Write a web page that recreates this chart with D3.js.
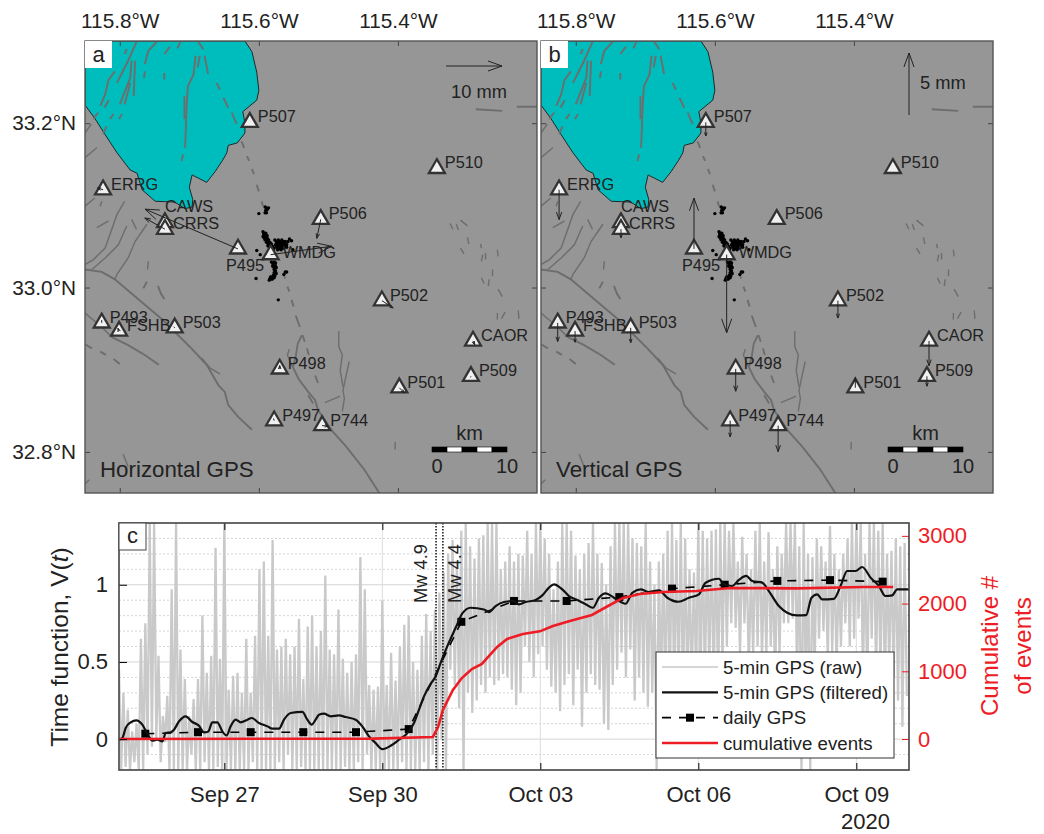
<!DOCTYPE html>
<html>
<head>
<meta charset="utf-8">
<script src="https://cdn.jsdelivr.net/npm/d3@7"></script>
<style>
  html, body { margin: 0; padding: 0; background: #fff; }
  svg text { font-family: "Liberation Sans", Arial, sans-serif; fill: #222; }
</style>
</head>
<body>
<div id="chart"></div>
<script>
// Stations, drawn in this order (CRRS sits on top of CAWS)
const stationNames = ['P507','P510','ERRG','CAWS','CRRS','P506','P495','WMDG','P502','P493','FSHB','P503','CAOR','P509','P501','P498','P497','P744']
const stationLon = [-115.613,-115.344,-115.824,-115.735,-115.735,-115.511,-115.630,-115.583,-115.423,-115.826,-115.801,-115.721,-115.292,-115.295,-115.398,-115.570,-115.578,-115.509]
const stationLat = [33.201,33.145,33.119,33.079,33.071,33.083,33.047,33.040,32.984,32.957,32.947,32.951,32.935,32.892,32.878,32.901,32.838,32.832]
// displacement in mm
const eastMm = [.1,0,-1.0,0,-3.6,-.7,-16.6,10.9,2.0,0,-.2,-.2,.3,-.1,.9,0,-.1,1.1]
const northMm = [-.1,-.1,.3,0,2.0,-3.4,7.1,1.5,-1.3,.5,.5,.2,-.7,-.2,-.9,.6,.4,-.1]
const upMm = [-1.1,0,-2.4,0,-.7,0,4.1,-6.3,-1.4,-1.5,-.9,-1.2,-2.0,-.8,.8,-1.8,-1.3,-2.1]

const lonTicks = [-115.8,-115.6,-115.4]
const latTicks = [33.2,33.0,32.8]

const lakeShore = [[-115.620,33.300],[-115.610,33.287],[-115.603,33.262],[-115.600,33.240],[-115.603,33.228],[-115.623,33.214],[-115.620,33.200],[-115.620,33.188],[-115.631,33.176],[-115.644,33.173],[-115.646,33.164],[-115.652,33.155],[-115.663,33.141],[-115.675,33.128],[-115.696,33.137],[-115.700,33.122],[-115.695,33.107],[-115.696,33.098],[-115.706,33.096],[-115.721,33.104],[-115.749,33.105],[-115.768,33.119],[-115.775,33.139],[-115.785,33.143],[-115.804,33.164],[-115.821,33.186],[-115.836,33.206],[-115.850,33.222],[-115.850,33.300]]

const lakeFaults = [
  [[-115.776,33.299],[-115.788,33.276],[-115.804,33.249]],
  [[-115.807,33.263],[-115.816,33.253],[-115.821,33.235],[-115.828,33.221]],
  [[-115.783,33.276],[-115.785,33.255],[-115.800,33.223]],
  [[-115.778,33.276],[-115.780,33.233]],
  [[-115.785,33.249],[-115.793,33.223]],
  [[-115.790,33.290],[-115.793,33.284]],
  [[-115.747,33.299],[-115.759,33.288],[-115.764,33.272]],
  [[-115.764,33.263],[-115.765,33.255]],
  [[-115.728,33.293],[-115.736,33.284]],
  [[-115.713,33.299],[-115.717,33.291]],
  [[-115.736,33.261],[-115.736,33.253]],
  [[-115.691,33.282],[-115.694,33.259],[-115.702,33.245],[-115.704,33.219],[-115.706,33.170]],
  [[-115.707,33.233],[-115.707,33.205]],
  [[-115.709,33.162],[-115.711,33.154]],
  [[-115.685,33.282],[-115.688,33.268]],
  [[-115.831,33.213],[-115.838,33.205]],
  [[-115.809,33.211],[-115.814,33.205]],
  [[-115.797,33.211],[-115.801,33.205]],
  [[-115.819,33.196],[-115.824,33.187]],
  [[-115.816,33.228],[-115.822,33.219]],
  // Brawley dashes
  [[-115.687,33.299],[-115.680,33.290]],
  [[-115.678,33.282],[-115.673,33.260]],
  [[-115.661,33.249],[-115.656,33.241]],
  [[-115.651,33.231],[-115.644,33.219]],
  [[-115.639,33.213],[-115.632,33.199]],
  [[-115.625,33.178],[-115.621,33.170]],
  [[-115.617,33.160],[-115.614,33.154]],
  [[-115.610,33.144],[-115.607,33.138]],
  [[-115.603,33.125],[-115.600,33.117]],
  [[-115.596,33.105],[-115.594,33.099]],
  [[-115.565,33.017],[-115.562,33.011]],
  [[-115.559,33.001],[-115.556,32.995]],
  [[-115.553,32.985],[-115.550,32.977]],
  [[-115.547,32.966],[-115.541,32.952]],
  [[-115.537,32.942],[-115.534,32.934]],
  [[-115.531,32.926],[-115.528,32.918]],
  [[-115.519,32.893],[-115.515,32.884]],
  // Superstition Hills and Superstition Mountain
  [[-115.850,33.022],[-115.826,33.019],[-115.807,33.010],[-115.778,32.989],[-115.740,32.962],[-115.716,32.942],[-115.697,32.926],[-115.675,32.906],[-115.658,32.881],[-115.649,32.873],[-115.644,32.857],[-115.630,32.843],[-115.610,32.827]],
  [[-115.812,32.940],[-115.788,32.930],[-115.764,32.918],[-115.744,32.906]],
  [[-115.850,32.931],[-115.840,32.926]],
  [[-115.828,32.922],[-115.820,32.918]],
  [[-115.809,32.913],[-115.800,32.907]],
  [[-115.761,33.007],[-115.766,32.999]],
  [[-115.745,33.002],[-115.741,32.993],[-115.736,32.986]],
  // Imperial
  [[-115.538,32.942],[-115.544,32.932],[-115.547,32.916],[-115.551,32.903],[-115.543,32.889],[-115.529,32.873],[-115.519,32.863],[-115.515,32.851],[-115.493,32.824],[-115.474,32.806],[-115.448,32.778],[-115.426,32.749]],
  [[-115.529,32.869],[-115.522,32.859]],
  [[-115.288,33.217],[-115.250,33.215]],
  [[-115.229,33.220],[-115.200,33.220]]
]
const thinFaults = [
  [[-115.850,32.969],[-115.826,32.952],[-115.812,32.940]],
  [[-115.682,32.914],[-115.670,32.902],[-115.656,32.895]],
  [[-115.795,32.797],[-115.788,32.782]],
  [[-115.850,32.761],[-115.844,32.766]],
  [[-115.759,33.032],[-115.760,33.022]],
  [[-115.793,33.105],[-115.804,33.089],[-115.821,33.048],[-115.838,33.034],[-115.850,33.028]],
  [[-115.790,33.075],[-115.802,33.052],[-115.821,33.036],[-115.840,33.022]],
  [[-115.761,33.077],[-115.778,33.056],[-115.788,33.036],[-115.804,33.016],[-115.807,33.010]],
  [[-115.783,33.083],[-115.776,33.071]],
  [[-115.816,33.081],[-115.833,33.073]],
  [[-115.826,33.105],[-115.828,33.099]],
  [[-115.836,33.109],[-115.850,33.099]],
  [[-115.833,33.170],[-115.850,33.158]],
  [[-115.841,33.199],[-115.850,33.188]],
  [[-115.556,32.925],[-115.559,32.918],[-115.552,32.904]],
  [[-115.485,32.947],[-115.485,32.928],[-115.480,32.918],[-115.483,32.899],[-115.479,32.879]],
  [[-115.470,32.910],[-115.476,32.887],[-115.479,32.875],[-115.477,32.865],[-115.480,32.849]],
  [[-115.505,32.860],[-115.483,32.868]],
  [[-115.404,32.812],[-115.404,32.803]],
  [[-115.325,33.078],[-115.321,33.071]],
  [[-115.316,33.077],[-115.313,33.070]],
  [[-115.310,33.082],[-115.300,33.075]],
  [[-115.300,33.061],[-115.298,33.053]],
  [[-115.310,33.048],[-115.305,33.041]],
  [[-115.281,33.053],[-115.280,33.048]],
  [[-115.274,33.042],[-115.274,33.034]],
  [[-115.278,33.040],[-115.280,33.032]],
  [[-115.257,33.046],[-115.256,33.038]],
  [[-115.264,33.022],[-115.264,33.014]],
  [[-115.280,33.012],[-115.276,33.005]],
  [[-115.269,33.010],[-115.270,33.002]],
  [[-115.256,32.998],[-115.250,32.989]],
  [[-115.257,32.969],[-115.257,32.961]],
  [[-115.246,32.970],[-115.251,32.962]],
  [[-115.227,32.972],[-115.226,32.962]]
]

// Relocated swarm events
const swarmEvents = [[-115.591,33.098],[-115.589,33.097],[-115.590,33.094],[-115.588,33.095],[-115.589,33.091],[-115.591,33.091],[-115.586,33.097],[-115.600,33.090],
  [-115.594,33.068],[-115.592,33.066],[-115.591,33.064],[-115.594,33.062],[-115.592,33.060],[-115.590,33.062],[-115.589,33.060],[-115.591,33.058],[-115.589,33.058],[-115.587,33.056],[-115.589,33.055],[-115.587,33.054],[-115.585,33.052],[-115.587,33.051],[-115.585,33.049],[-115.583,33.050],[-115.582,33.048],[-115.584,33.047],[-115.581,33.046],[-115.583,33.045],[-115.579,33.046],[-115.592,33.063],[-115.588,33.063],[-115.586,33.058],[-115.584,33.055],
  [-115.593,33.065],[-115.590,33.066],[-115.588,33.060],[-115.586,33.054],[-115.584,33.052],[-115.582,33.053],[-115.580,33.050],[-115.578,33.048],[-115.581,33.043],[-115.579,33.043],[-115.585,33.045],
  [-115.577,33.058],[-115.575,33.056],[-115.572,33.058],[-115.570,33.056],[-115.574,33.054],[-115.572,33.054],[-115.570,33.053],[-115.568,33.055],[-115.567,33.058],[-115.565,33.056],[-115.563,33.054],[-115.565,33.052],[-115.567,33.051],[-115.570,33.050],[-115.572,33.050],[-115.569,33.048],[-115.566,33.048],[-115.563,33.050],[-115.561,33.053],[-115.558,33.056],[-115.556,33.059],[-115.553,33.057],[-115.560,33.049],[-115.574,33.049],
  [-115.576,33.052],[-115.574,33.051],[-115.571,33.052],[-115.568,33.052],[-115.566,33.054],[-115.564,33.048],[-115.568,33.046],[-115.571,33.047],[-115.573,33.046],[-115.562,33.056],[-115.560,33.052],
  [-115.582,33.031],[-115.578,33.031],[-115.580,33.029],[-115.577,33.028],[-115.580,33.026],[-115.578,33.024],[-115.576,33.026],[-115.578,33.022],[-115.576,33.020],[-115.578,33.018],[-115.575,33.017],[-115.579,33.015],[-115.577,33.014],[-115.582,33.013],[-115.584,33.011],[-115.581,33.010],[-115.578,33.012],[-115.585,33.009],
  [-115.576,33.030],[-115.579,33.027],[-115.575,33.024],[-115.577,33.021],[-115.580,33.012],[-115.583,33.013],
  [-115.564,33.016],[-115.562,33.019],[-115.604,33.011],[-115.598,33.040],[-115.593,33.035],[-115.603,33.045],[-115.551,33.046],[-115.572,32.985],[-115.560,33.019]
]

// Time series, day counted from Sep 25 2020 00:00 UTC. Raw 5-min GPS read as
// high and low per 2 hour bin
const rawHigh = [.45,.30,.19,.05,.10,.65,.75,1.40,1.40,.54,.15,.28,.97,1.40,.58,.39,.15,.26,.39,.80,.43,.54,1.24,.52,1.40,.32,.41,.43,.30,.65,.30,.67,1.10,1.15,.67,1.29,.58,.60,.65,.55,.60,.78,.39,.73,.80,.60,
  .70,1.06,.58,.55,.84,.52,.43,.50,.55,1.18,.97,.35,.32,.34,.90,.35,.56,.38,.60,.74,.80,.50,.45,.67,.81,.70,.84,.95,1.08,1.20,1.29,1.15,1.35,1.40,1.25,1.17,1.30,1.32,1.40,1.40,1.40,1.10,1.15,1.25,1.15,1.20,
  1.19,1.35,1.20,1.40,1.40,1.30,1.20,.97,1.15,1.40,1.40,1.35,1.19,1.10,1.20,1.27,1.40,1.20,1.14,1.00,1.25,1.40,1.40,1.40,1.40,1.30,1.27,1.25,1.40,1.15,1.00,1.15,1.20,1.35,1.40,1.29,1.40,1.30,1.10,1.08,1.40,1.35,1.30,1.35,1.36,
  1.40,1.40,1.35,1.40,1.15,1.31,1.20,1.10,1.35,1.40,1.15,1.34,1.10,1.25,1.20,1.40,1.40,1.40,1.25,1.40,1.20,1.18,1.30,1.25,1.15,1.38,1.20,1.10,1.20,1.30,1.40,1.40,1.40,1.20,1.40,1.40,1.35,1.40,1.20,1.22,1.30,1.25,1.27]
const rawLow = [-.20,-.18,-.20,-.15,-.20,-.20,-.10,-.05,.00,-.15,-.02,-.20,-.20,-.20,-.20,-.20,-.10,-.20,-.20,-.15,-.20,-.20,-.18,-.20,-.20,-.20,-.20,-.20,-.20,-.20,-.15,-.20,-.20,-.20,-.20,-.20,-.15,-.20,-.10,-.20,-.20,-.18,-.20,-.20,-.20,-.20,
  -.20,-.20,-.20,-.20,-.20,-.18,-.20,-.20,-.15,-.20,-.10,-.20,-.20,-.20,-.20,-.20,-.20,-.20,-.15,-.20,-.20,-.20,-.20,-.15,-.20,-.10,-.20,.00,-.20,.45,.35,.20,-.20,.30,.17,.25,.35,.30,.40,.35,.38,.42,.40,.32,.22,.30,
  .60,.50,.40,.55,.60,.45,.34,.30,.18,.35,.42,.22,.45,.08,.30,.42,.35,.32,.10,.06,.35,.45,.56,.40,.58,.25,.40,.30,.21,.30,-.20,.30,.20,.30,.30,.30,.25,.30,.35,.40,.30,.35,.40,.30,.30,
  .50,.60,.75,.72,.55,.75,.45,.55,.60,.50,.55,.60,.35,.55,.75,.75,.78,.40,-.20,.30,-.20,.45,.65,.70,.50,.55,.45,.60,.75,.60,.65,.78,.40,.30,.65,.40,.40,.30,.45,.40,.25,.08,.28]

const filteredDay = [0,.063,.127,.222,.329,.443,.538,.633,.728,.823,.886,.981,1.044,1.139,1.266,1.392,1.519,1.614,1.696,1.772,1.867,1.962,2.044,2.120,2.215,2.310,2.437,2.519,2.658,2.816,2.911,3.038,3.133,3.259,3.481,3.576,3.658,3.734,3.797,3.892,4.019,4.177,4.303,4.494,4.620,4.746,4.873,5.000,5.158,5.316,5.475,5.601,5.696,5.791,5.917,6.013,6.107,6.234,6.392,6.519,6.677,6.930,7.025,7.151,7.310,7.500,7.594,7.721,7.910,8.037,8.164,8.259,8.417,8.543,8.702,8.860,8.999,9.113,9.240,9.398,9.619,9.746,9.904,10.062,10.252,10.410,10.619,10.822,11.012,11.138,11.391,11.485,11.643,11.770,11.909,12.023,12.213,12.339,12.529,12.687,12.877,13.048,13.149,13.257,13.352,13.574,13.700,13.827,13.985,14.112,14.270,14.428,14.554,14.681,14.776,15.0]
const filteredV = [-.004,.007,.072,.109,.122,.094,.035,-.010,-.004,-.015,.039,.044,.061,.115,.148,.111,.087,.044,.050,.109,.109,.050,.024,.083,.126,.109,.126,.137,.104,.083,.068,.068,.126,.169,.176,.126,.094,.126,.158,.165,.148,.154,.143,.126,.083,.018,-.026,-.065,-.043,-.004,.039,.104,.191,.277,.358,.407,.494,.602,.721,.814,.851,.840,.823,.862,.888,.894,.873,.888,.901,.931,.981,1.003,.970,.927,.901,.873,.851,.916,.944,.916,.877,.948,.970,.953,.964,.916,.890,.916,.938,1.013,1.039,1.003,.992,1.031,1.057,1.024,1.013,.959,.862,.819,.801,.803,.916,.938,.905,.909,.992,1.089,1.089,1.115,1.046,.992,.927,.931,.970,.970]

const dailyDay = [.5,1.5,2.5,3.5,4.5,5.5,6.5,7.5,8.5,9.5,10.5,11.5,12.5,13.5,14.5]
const dailyV = [.035,.045,.045,.045,.045,.065,.76,.895,.895,.92,.975,1.0,1.025,1.03,1.02]

const eventDay = [0,4.82,5.96,6.06,6.15,6.34,6.51,6.70,6.89,7.01,7.18,7.37,7.67,7.99,8.24,8.56,8.98,9.32,9.57,9.89,10.33,10.97,11.60,12.87,14.13,14.70]
const eventCount = [0,5,30,180,428,724,900,1034,1108,1211,1359,1477,1551,1590,1669,1743,1832,1979,2083,2142,2171,2185,2230,2225,2245,2245]

const quakeDay = [6.02,6.15]
const quakeNames = ['Mw 4.9','Mw 4.4']
const dateTicks = ['2020-09-27','2020-09-30','2020-10-03','2020-10-06','2020-10-09']
const vTicks = [0,.5,1]
const vGrid = d3.range(-2,14).map(d => d / 10)
const countTicks = [0,1000,2000,3000]
const legendNames = ['5-min GPS (raw)','5-min GPS (filtered)','daily GPS','cumulative events']

const faultColour = '#6d6d6d'
const red = '#ee1c25'
const fontMap = 16.3

// label offsets from the station, most sit to the right
const labelShift = { CAWS: [0,-11], P495: [-12,22], WMDG: [12,3] }

const svg = d3.select('#chart').append('svg')
  .attr('width', 1044)
  .attr('height', 834)

const mapWidth = 452
const mapHeight = 452
const lon = d3.scaleLinear().domain([-115.85,-115.2]).range([0,mapWidth])
const lat = d3.scaleLinear().domain([33.3,32.75]).range([0,mapHeight])
const pathGeo = d3.line().x(d => lon(d[0])).y(d => lat(d[1]))
const kmScale = d3.scaleLinear().domain([0,10]).range([347,422])

function drawArrow(g, x0, y0, x1, y1) {
  const len = Math.hypot(x1 - x0, y1 - y0)
  if (len < 1) return
  let d = `M${x0},${y0}L${x1},${y1}`
  if (len > 3) {
    const head = Math.max(3.5, Math.min(14, len * 0.25))
    const ux = (x1 - x0) / len, uy = (y1 - y0) / len
    const w = head * 0.36
    d += `M${x1 - ux * head - uy * w},${y1 - uy * head + ux * w}L${x1},${y1}L${x1 - ux * head + uy * w},${y1 - uy * head - ux * w}`
  }
  g.append('path').attr('d', d).attr('fill', 'none').attr('stroke', '#222').attr('stroke-width', 1)
}

function drawMap(id, left, letter, title, vector, showLat) {
  const g = svg.append('g').attr('id', id).attr('transform', `translate(${left},41)`)
  const clipId = id + '-clip'
  g.append('clipPath').attr('id', clipId).append('rect').attr('width', mapWidth).attr('height', mapHeight)
  g.append('rect').attr('width', mapWidth).attr('height', mapHeight).attr('fill', '#969696')

  const body = g.append('g').attr('clip-path', `url(#${clipId})`)
  body.append('path').attr('d', pathGeo(lakeShore) + 'Z')
    .attr('fill', '#00bdbd').attr('stroke', '#1c2a2a').attr('stroke-width', 1)
  body.append('g').selectAll('path').data(lakeFaults).enter().append('path')
    .attr('d', pathGeo).attr('fill', 'none').attr('stroke', faultColour).attr('stroke-width', 1.9)
  body.append('g').selectAll('path').data(thinFaults).enter().append('path')
    .attr('d', pathGeo).attr('fill', 'none').attr('stroke', faultColour).attr('stroke-width', 1.4)

  body.append('g').selectAll('circle').data(swarmEvents).enter().append('circle')
    .attr('cx', d => lon(d[0])).attr('cy', d => lat(d[1])).attr('r', 1.7).attr('fill', '#000')

  // Stations
  const triangle = d3.symbol().type(d3.symbolTriangle).size(110)
  body.append('g').selectAll('path').data(stationNames).enter().append('path')
    .attr('d', triangle)
    .attr('transform', (d, i) => `translate(${lon(stationLon[i])},${lat(stationLat[i])})`)
    .attr('fill', '#f0f0f0').attr('stroke', '#333').attr('stroke-width', 2.3)

  const arrows = body.append('g')
  stationNames.forEach((name, i) => {
    const x = lon(stationLon[i]), y = lat(stationLat[i])
    const [dx, dy] = vector(i)
    drawArrow(arrows, x, y, x + dx, y - dy)
  })

  body.append('g').selectAll('text').data(stationNames).enter().append('text')
    .attr('x', (d, i) => lon(stationLon[i]) + (labelShift[d] ? labelShift[d][0] : 8))
    .attr('y', (d, i) => lat(stationLat[i]) + (labelShift[d] ? labelShift[d][1] : 0))
    .attr('font-size', fontMap)
    .text(d => d)

  // Scale bar
  const bar = g.append('g')
  const barEdges = [0,2,4,6,8]
  bar.selectAll('rect').data(barEdges).enter().append('rect')
    .attr('x', d => kmScale(d)).attr('y', 406)
    .attr('width', kmScale(2) - kmScale(0)).attr('height', 5)
    .attr('fill', (d, i) => i % 2 ? '#fff' : '#000').attr('stroke', '#000').attr('stroke-width', .6)
  bar.append('text').attr('x', (kmScale(0) + kmScale(10)) / 2).attr('y', 399).attr('text-anchor', 'middle').attr('font-size', 20).text('km')
  bar.append('text').attr('x', kmScale(0) + 5).attr('y', 432).attr('text-anchor', 'middle').attr('font-size', 20).text('0')
  bar.append('text').attr('x', kmScale(10)).attr('y', 432).attr('text-anchor', 'middle').attr('font-size', 20).text('10')

  g.append('text').attr('x', 15).attr('y', 436).attr('font-size', 22.3).text(title)

  // Frame and ticks
  const styleAxis = sel => {
    sel.select('.domain').remove()
    sel.selectAll('line').attr('stroke', '#444')
    sel.selectAll('text').attr('font-size', 20.8).style('font-family', '"Liberation Sans", Arial, sans-serif')
  }
  g.append('g').call(d3.axisTop(lon).tickValues(lonTicks).tickSize(-5).tickPadding(13)
    .tickFormat(d => `${Math.abs(d).toFixed(1)}°W`)).call(styleAxis)
  g.append('g').attr('transform', `translate(0,${mapHeight})`)
    .call(d3.axisBottom(lon).tickValues(lonTicks).tickSize(-5).tickFormat('')).call(styleAxis)
  g.append('g').call(d3.axisLeft(lat).tickValues(latTicks).tickSize(-5).tickPadding(9)
    .tickFormat(d => showLat ? `${d.toFixed(1)}°N` : '')).call(styleAxis)
  g.append('g').attr('transform', `translate(${mapWidth},0)`)
    .call(d3.axisRight(lat).tickValues(latTicks).tickSize(-5).tickFormat('')).call(styleAxis)
  g.append('rect').attr('width', mapWidth).attr('height', mapHeight)
    .attr('fill', 'none').attr('stroke', '#555').attr('stroke-width', 1.4)

  g.append('rect').attr('width', 27).attr('height', 27).attr('fill', '#fff')
  g.append('text').attr('x', 13.5).attr('y', 21).attr('text-anchor', 'middle').attr('font-size', 22).text(letter)
  return g
}

const eastScale = d3.scaleLinear().domain([0,10]).range([0,56])
const upScale = d3.scaleLinear().domain([0,5]).range([0,62])

const mapA = drawMap('map-a', 85, 'a', 'Horizontal GPS', i => [eastScale(eastMm[i]), eastScale(northMm[i])], true)
const mapB = drawMap('map-b', 541, 'b', 'Vertical GPS', i => [0, upScale(upMm[i])], false)

// Reference arrows
drawArrow(mapA, 361, 25, 361 + eastScale(10), 25)
mapA.append('text').attr('x', 366).attr('y', 57).attr('font-size', 18.3).text('10 mm')
drawArrow(mapB, 368, 74, 368, 74 - upScale(5))
mapB.append('text').attr('x', 379).attr('y', 48).attr('font-size', 18.3).text('5 mm')

// Panel c
const cLeft = 119, cRight = 909, cTop = 523, cBottom = 770
const startMs = Date.UTC(2020, 8, 25)
const dayToDate = d => new Date(startMs + d * 864e5)
const xTime = d3.scaleUtc().domain([dayToDate(0), dayToDate(15)]).range([0, cRight - cLeft])
const yV = d3.scaleLinear().domain([-0.2,1.4]).range([cBottom - cTop, 0])
const yCount = d3.scaleLinear().domain([-458,3190]).range([cBottom - cTop, 0])
const plotW = cRight - cLeft, plotH = cBottom - cTop

const c = svg.append('g').attr('id', 'panel-c').attr('transform', `translate(${cLeft},${cTop})`)
c.append('clipPath').attr('id', 'c-clip').append('rect').attr('width', plotW).attr('height', plotH)
c.append('rect').attr('width', plotW).attr('height', plotH).attr('fill', '#fff')

const dates = dateTicks.map(d => new Date(d + 'T00:00:00Z'))
c.append('g').selectAll('line').data(vGrid).enter().append('line')
  .attr('x1', 0).attr('x2', plotW).attr('y1', d => yV(d)).attr('y2', d => yV(d))
  .attr('stroke', '#d4d4d4').attr('stroke-dasharray', d => Math.round(d * 10) % 5 === 0 ? null : '2,2')
c.append('g').selectAll('line').data(dates).enter().append('line')
  .attr('x1', d => xTime(d)).attr('x2', d => xTime(d)).attr('y1', 0).attr('y2', plotH)
  .attr('stroke', '#dcdcdc')

const series = c.append('g').attr('clip-path', 'url(#c-clip)')

// alternate high and low per bin, one hour apart
const rawPoints = rawHigh.flatMap((h, i) => [[i * 2 / 24, h], [(i * 2 + 1) / 24, rawLow[i]]])
const lineDayV = d3.line().x(d => xTime(dayToDate(d[0]))).y(d => yV(d[1]))
series.append('path').attr('d', lineDayV(rawPoints))
  .attr('fill', 'none').attr('stroke', '#c9c9c9').attr('stroke-width', 2.3)

series.append('g').selectAll('line').data(quakeDay).enter().append('line')
  .attr('x1', d => xTime(dayToDate(d))).attr('x2', d => xTime(dayToDate(d)))
  .attr('y1', 0).attr('y2', plotH)
  .attr('stroke', '#000').attr('stroke-width', 1.4).attr('stroke-dasharray', '1.5,1.5')

series.append('path').attr('d', lineDayV(d3.zip(dailyDay, dailyV)))
  .attr('fill', 'none').attr('stroke', '#000').attr('stroke-width', 1.6).attr('stroke-dasharray', '9,8')
series.append('g').selectAll('rect').data(d3.zip(dailyDay, dailyV)).enter().append('rect')
  .attr('x', d => xTime(dayToDate(d[0])) - 4).attr('y', d => yV(d[1]) - 4)
  .attr('width', 8).attr('height', 8).attr('fill', '#000')

series.append('path')
  .attr('d', d3.line().curve(d3.curveMonotoneX).x(d => xTime(dayToDate(d[0]))).y(d => yV(d[1]))(d3.zip(filteredDay, filteredV)))
  .attr('fill', 'none').attr('stroke', '#111').attr('stroke-width', 2.2)

series.append('path')
  .attr('d', d3.line().x(d => xTime(dayToDate(d[0]))).y(d => yCount(d[1]))(d3.zip(eventDay, eventCount)))
  .attr('fill', 'none').attr('stroke', red).attr('stroke-width', 2.6)

// Axes
const fontFix = (sel, size) => {
  sel.select('.domain').remove()
  sel.selectAll('text').attr('font-size', size).style('font-family', '"Liberation Sans", Arial, sans-serif')
}
c.append('g').attr('transform', `translate(0,${plotH})`)
  .call(d3.axisBottom(xTime).tickValues(dates).tickSize(-7).tickPadding(16).tickFormat(d3.utcFormat('%b %d')))
  .call(fontFix, 22)
c.append('g')
  .call(d3.axisTop(xTime).tickValues(dates).tickSize(-7).tickFormat(''))
  .call(fontFix, 22)
c.append('g')
  .call(d3.axisLeft(yV).tickValues(vTicks).tickSize(-8).tickPadding(11).tickFormat(d => d))
  .call(fontFix, 22)
const rightAxis = c.append('g').attr('transform', `translate(${plotW},0)`)
  .call(d3.axisRight(yCount).tickValues(countTicks).tickSize(-7).tickPadding(9).tickFormat(d => d))
  .call(fontFix, 22)
rightAxis.selectAll('line').attr('stroke', red)
rightAxis.selectAll('text').style('fill', red)

c.append('rect').attr('width', plotW).attr('height', plotH)
  .attr('fill', 'none').attr('stroke', '#444').attr('stroke-width', 1.6)

c.append('g').selectAll('text').data(quakeNames).enter().append('text')
  .attr('transform', (d, i) => `translate(${i ? 342 : 308},80) rotate(-90)`)
  .attr('font-size', 18.3)
  .text(d => d)

c.append('rect').attr('width', 27).attr('height', 27)
  .attr('fill', '#fff').attr('stroke', '#444').attr('stroke-width', 1)
c.append('text').attr('x', 13.5).attr('y', 20).attr('text-anchor', 'middle').attr('font-size', 22).text('c')

svg.append('text').attr('x', 890).attr('y', 829).attr('text-anchor', 'end').attr('font-size', 22).text('2020')

// Axis titles
const vTitle = svg.append('text')
  .attr('transform', 'translate(68,647) rotate(-90)')
  .attr('text-anchor', 'middle').attr('font-size', 24.5)
vTitle.append('tspan').text('Time function, V(')
vTitle.append('tspan').attr('font-style', 'italic').text('t')
vTitle.append('tspan').text(')')
svg.append('text').attr('transform', 'translate(998,646) rotate(-90)')
  .attr('text-anchor', 'middle').attr('font-size', 24).style('fill', red).text('Cumulative #')
svg.append('text').attr('transform', 'translate(1031,646) rotate(-90)')
  .attr('text-anchor', 'middle').attr('font-size', 24).style('fill', red).text('of events')

// Legend
const legend = svg.append('g').attr('id', 'legend').attr('transform', 'translate(656,652)')
legend.append('rect').attr('width', 238).attr('height', 106)
  .attr('fill', '#fff').attr('stroke', '#333').attr('stroke-width', 1)
const rowY = d3.scaleLinear().domain([0,3]).range([15,91])
const rowX = d3.scaleLinear().domain([0,1]).range([6,62])
const row = legend.selectAll('g').data(legendNames).enter().append('g')
  .attr('transform', (d, i) => `translate(0,${rowY(i)})`)
row.append('text').attr('x', 67).attr('y', 6.5).attr('font-size', 18.7).text(d => d)
row.append('line').attr('x1', rowX(0)).attr('x2', rowX(1))
  .attr('stroke', (d, i) => ['#c9c9c9','#111','#000',red][i])
  .attr('stroke-width', (d, i) => [1.5,2.2,1.6,2.6][i])
  .attr('stroke-dasharray', (d, i) => i === 2 ? '9,8' : null)
row.filter((d, i) => i === 2).append('rect')
  .attr('x', (rowX(0) + rowX(1)) / 2 - 4).attr('y', -4).attr('width', 8).attr('height', 8).attr('fill', '#000')
</script>
</body>
</html>
